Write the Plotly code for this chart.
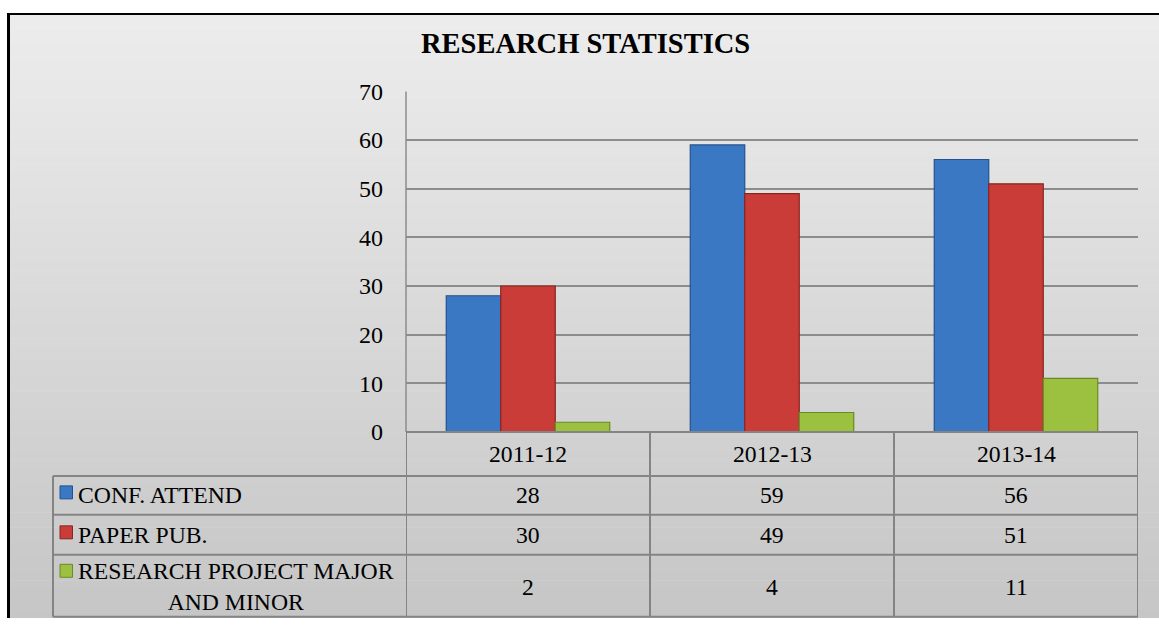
import plotly.graph_objects as go

W, H = 1159, 631
# the photographed page shows up vertically as: picture_y = OFF + SCALE * page_y
OFF, SCALE = 12.5, 0.96

title = "RESEARCH STATISTICS"
categories = ["2011-12", "2012-13", "2013-14"]
series_names = ["CONF. ATTEND", "PAPER PUB.", "RESEARCH PROJECT MAJOR<br>AND MINOR"]
conf_attend = [28, 59, 56]
paper_pub = [30, 49, 51]
research_project = [2, 4, 11]
series_values = [conf_attend, paper_pub, research_project]
colors = ["#3b78c4", "#c93c37", "#9cc140"]
edge_colors = ["#24528c", "#8a2421", "#6a8a24"]
y_ticks = [0, 10, 20, 30, 40, 50, 60, 70]

FONT = "Liberation Serif, Times New Roman, serif"

def page_y(ref):
    return min(max((ref - OFF) / SCALE, 0), H)

def py(ref):
    """reference picture y (px) -> paper fraction"""
    return 1 - page_y(ref) / H

def px(p):
    return p / W

plot_l, plot_r, plot_t, plot_b = 406, 1138, 91, 432
table_l = 53
row_lines = [432, 476, 515, 555, 617]

fig = go.Figure()
for name, vals, c, ec in zip(series_names, series_values, colors, edge_colors):
    fig.add_trace(go.Bar(
        x=categories, y=vals, name=name,
        marker=dict(color=c, line=dict(color=ec, width=1.2)),
        hoverinfo="x+y",
    ))

shapes = []
# gradient background (page space strips)
n = 80
for i in range(n):
    y0 = H * i / n
    y1 = H * (i + 1) / n + 0.6
    mid_pic = OFF + SCALE * (y0 + y1) / 2
    t = (mid_pic - 7) / (631 - 7)
    g = int(round(237 - 40 * t))
    shapes.append(dict(type="rect", xref="paper", yref="paper",
                       x0=px(10), x1=1, y0=1 - min(y1, H) / H, y1=1 - y0 / H,
                       fillcolor=f"rgb({g},{g},{g})", line=dict(width=0),
                       layer="below"))
# outer black border (left + top)
shapes.append(dict(type="line", xref="paper", yref="paper",
                   x0=px(8.5), x1=px(8.5), y0=0, y1=1,
                   line=dict(color="#000000", width=3)))
shapes.append(dict(type="line", xref="paper", yref="paper",
                   x0=px(7), x1=1, y0=1 - 1 / H, y1=1 - 1 / H,
                   line=dict(color="#000000", width=2)))

gridc = "#8c8c8c"
shapes.append(dict(type="line", xref="paper", yref="paper",
                   x0=px(plot_l), x1=px(plot_l), y0=py(plot_t), y1=py(plot_b),
                   line=dict(color=gridc, width=1.5)))

tc = "#848484"
shapes.append(dict(type="line", xref="paper", yref="paper",
                   x0=px(plot_l), x1=px(plot_r), y0=py(row_lines[0]), y1=py(row_lines[0]),
                   line=dict(color=tc, width=2)))
for r in row_lines[1:]:
    shapes.append(dict(type="line", xref="paper", yref="paper",
                       x0=px(table_l), x1=px(plot_r), y0=py(r), y1=py(r),
                       line=dict(color=tc, width=2)))
for b in [-0.5, 0.5, 1.5, 2.5]:
    shapes.append(dict(type="line", xref="x", yref="paper",
                       x0=b, x1=b, y0=py(row_lines[-1]), y1=py(row_lines[0]),
                       line=dict(color=tc, width=2)))
shapes.append(dict(type="line", xref="paper", yref="paper",
                   x0=px(table_l), x1=px(table_l), y0=py(row_lines[-1]), y1=py(row_lines[1]),
                   line=dict(color=tc, width=2)))

annotations = []
annotations.append(dict(text=f"<b>{title}</b>", xref="paper", yref="paper",
                        x=px(585), y=py(43), showarrow=False,
                        font=dict(family=FONT, size=28.5, color="#000000"),
                        xanchor="center", yanchor="middle"))
fs = 23.7
for c in categories:
    annotations.append(dict(text=c, xref="x", yref="paper", x=c,
                            y=py((row_lines[0] + row_lines[1]) / 2), showarrow=False,
                            font=dict(family=FONT, size=fs, color="#000000"),
                            xanchor="center", yanchor="middle"))
key_y = [492.5, 532.5, 571]
row_centers = [495.5, 535, 587]
for i, (name, vals, c, ec) in enumerate(zip(series_names, series_values, colors, edge_colors)):
    yc = row_centers[i]
    for cat, v in zip(categories, vals):
        annotations.append(dict(text=str(v), xref="x", yref="paper", x=cat, y=py(yc),
                                showarrow=False,
                                font=dict(family=FONT, size=fs, color="#000000"),
                                xanchor="center", yanchor="middle"))
    annotations.append(dict(text=name, xref="paper", yref="paper", x=px(76), y=py(yc),
                            showarrow=False, align="center",
                            font=dict(family=FONT, size=fs, color="#000000"),
                            xanchor="left", yanchor="middle"))
    ky = key_y[i]
    shapes.append(dict(type="rect", xref="paper", yref="paper",
                       x0=px(60), x1=px(72.5), y0=py(ky + 6.5), y1=py(ky - 6.5),
                       fillcolor=c, line=dict(color=ec, width=1)))

fig.update_layout(
    width=W, height=H,
    margin=dict(l=0, r=0, t=0, b=0),
    paper_bgcolor="#ffffff",
    plot_bgcolor="#ffffff",
    barmode="group", bargap=0.33, bargroupgap=0,
    showlegend=False,
    shapes=shapes,
    annotations=annotations,
    xaxis=dict(type="category", range=[-0.5, 2.5],
               domain=[px(plot_l), px(plot_r)], showticklabels=False,
               showgrid=False, zeroline=False, showline=False, ticks=""),
    yaxis=dict(domain=[py(plot_b), py(plot_t)], range=[0, 70],
               tickvals=y_ticks, showgrid=True, gridcolor=gridc, gridwidth=1.5,
               zeroline=False, showline=False, ticks="", ticklabelstandoff=22,
               tickfont=dict(family=FONT, size=24, color="#000000")),
)

fig.write_html("out.html",
               config={"displayModeBar": False},
               post_script="document.body.style.margin='0';document.body.style.overflow='hidden';")
